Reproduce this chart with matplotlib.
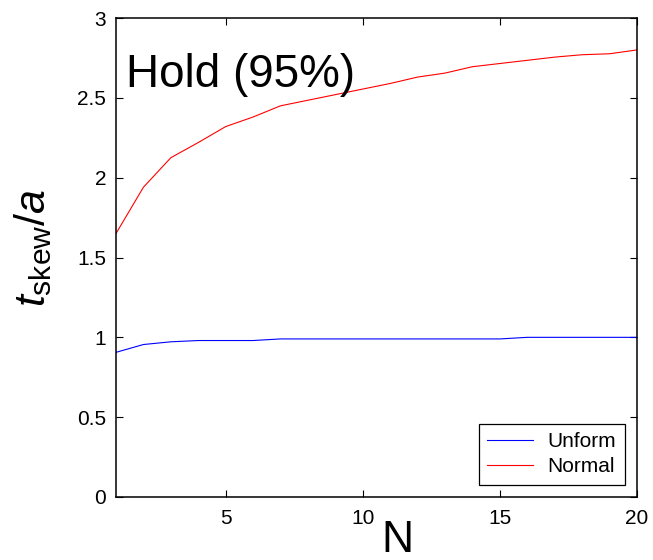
import matplotlib
matplotlib.use('Agg')
import matplotlib.pyplot as plt
import numpy as np

plt.rcParams['font.family'] = ['Liberation Sans', 'DejaVu Sans']
plt.rcParams['mathtext.fontset'] = 'custom'
plt.rcParams['mathtext.rm'] = 'Liberation Sans'
plt.rcParams['mathtext.it'] = 'Liberation Sans:italic'

# data
n = np.arange(1, 21)
uniform = [0.906, 0.955, 0.972, 0.98, 0.98, 0.98, 0.99, 0.99, 0.99, 0.99,
           0.99, 0.99, 0.99, 0.99, 0.99, 1.0, 1.0, 1.0, 1.0, 1.0]
normal = [1.65, 1.94, 2.125, 2.22, 2.32, 2.38, 2.45, 2.485, 2.52, 2.555,
          2.59, 2.63, 2.655, 2.695, 2.715, 2.735, 2.755, 2.77, 2.776, 2.80]
xticks = [5, 10, 15, 20]
yticks = [0, 0.5, 1, 1.5, 2, 2.5, 3]
ytick_labels = ['0', '0.5', '1', '1.5', '2', '2.5', '3']

fig = plt.figure(figsize=(6.53, 5.6), dpi=100)
ax = fig.add_axes([116 / 653, 63 / 560, 521 / 653, 479 / 560])

ax.plot(n, uniform, color='b', lw=0.8, label='Unform')
ax.plot(n, normal, color='r', lw=0.8, label='Normal')

ax.set_xlim(1, 20)
ax.set_ylim(0, 3)
ax.set_xticks(xticks)
ax.set_yticks(yticks)
ax.set_yticklabels(ytick_labels)
ax.tick_params(direction='in', length=5, width=0.8, labelsize=15,
               top=True, right=True)
ax.tick_params(axis='x', pad=9)
ax.tick_params(axis='y', pad=7)
for s in ax.spines.values():
    s.set_linewidth(1.1)

ax.text(0.02, 0.855, 'Hold (95%)', transform=ax.transAxes, fontsize=33,
        ha='left', va='baseline')

ax.set_ylabel(r'$t_{\rm skew}/a$', fontsize=31)
ax.yaxis.set_label_coords(-0.118, 0.52)
fig.text(397 / 653, 8 / 560, 'N', fontsize=32, ha='center', va='baseline')

leg = ax.legend(loc='lower right', fontsize=15, handlelength=2.2,
                handletextpad=0.7, labelspacing=0.3, borderpad=0.4,
                borderaxespad=0.6, fancybox=False, framealpha=1)
leg.get_frame().set_edgecolor('black')
leg.get_frame().set_linewidth(0.9)

plt.savefig('out.png', dpi=100)
